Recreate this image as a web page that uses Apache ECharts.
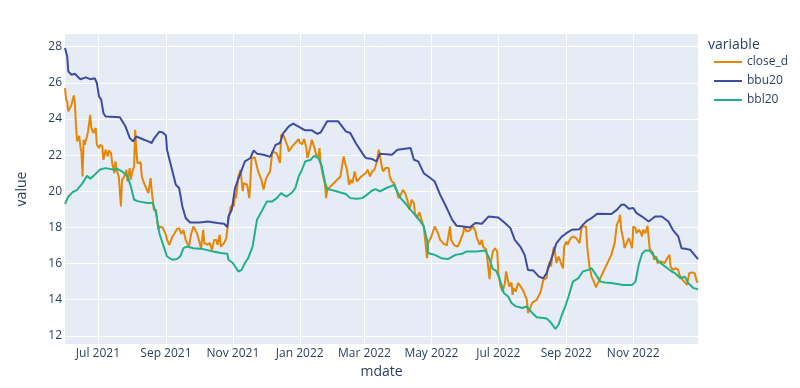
<!DOCTYPE html>
<html><head><meta charset="utf-8">
<script src="https://cdn.jsdelivr.net/npm/echarts@6/dist/echarts.min.js"></script>
<style>html,body{margin:0;padding:0;background:#fff}#chart{width:800px;height:388px}</style>
</head><body><div id="chart"></div>
<script>
const tickDates = ['2021-07-01','2021-09-01','2021-11-01','2022-01-01','2022-03-01','2022-05-01','2022-07-01','2022-09-01','2022-11-01'];
const tickLabels = ['Jul 2021','Sep 2021','Nov 2021','Jan 2022','Mar 2022','May 2022','Jul 2022','Sep 2022','Nov 2022'];
const seriesNames = ['close_d','bbu20','bbl20'];

const closeDates = [
'2021-06-01','2021-06-02','2021-06-03','2021-06-04','2021-06-07','2021-06-09','2021-06-10','2021-06-11','2021-06-12','2021-06-14','2021-06-15','2021-06-16','2021-06-17','2021-06-18','2021-06-19','2021-06-21','2021-06-22','2021-06-24','2021-06-25','2021-06-27','2021-06-29','2021-06-30',
'2021-07-02','2021-07-03','2021-07-05','2021-07-06','2021-07-08','2021-07-10','2021-07-11','2021-07-13','2021-07-14','2021-07-16','2021-07-17','2021-07-18','2021-07-20','2021-07-22','2021-07-23','2021-07-25','2021-07-27','2021-07-28','2021-07-30','2021-07-31',
'2021-08-01','2021-08-03','2021-08-04','2021-08-05','2021-08-06','2021-08-09','2021-08-10','2021-08-12','2021-08-14','2021-08-16','2021-08-18','2021-08-19','2021-08-21','2021-08-23','2021-08-25','2021-08-26','2021-08-29',
'2021-09-01','2021-09-02','2021-09-04','2021-09-07','2021-09-09','2021-09-11','2021-09-13','2021-09-15','2021-09-17','2021-09-19','2021-09-22','2021-09-24','2021-09-26','2021-09-29',
'2021-10-01','2021-10-03','2021-10-05','2021-10-06','2021-10-09','2021-10-11','2021-10-13','2021-10-15','2021-10-17','2021-10-18','2021-10-20','2021-10-21','2021-10-24','2021-10-26','2021-10-28','2021-10-30',
'2021-11-02','2021-11-03','2021-11-04','2021-11-06','2021-11-08','2021-11-10','2021-11-11','2021-11-14','2021-11-16','2021-11-17','2021-11-18','2021-11-21','2021-11-22','2021-11-24','2021-11-26','2021-11-27','2021-11-29',
'2021-12-01','2021-12-03','2021-12-05','2021-12-07','2021-12-11','2021-12-12','2021-12-14','2021-12-15','2021-12-17','2021-12-18','2021-12-21','2021-12-22','2021-12-25','2021-12-28','2021-12-31',
'2022-01-01','2022-01-03','2022-01-05','2022-01-07','2022-01-08','2022-01-10','2022-01-12','2022-01-14','2022-01-16','2022-01-18','2022-01-19','2022-01-20','2022-01-22','2022-01-24','2022-01-25','2022-01-26',
'2022-02-07','2022-02-10','2022-02-11','2022-02-13','2022-02-15','2022-02-17','2022-02-18','2022-02-20','2022-02-22','2022-02-23','2022-02-26',
'2022-03-02','2022-03-04','2022-03-06','2022-03-08','2022-03-10','2022-03-12','2022-03-14','2022-03-15','2022-03-17','2022-03-18','2022-03-20','2022-03-23','2022-03-24','2022-03-26','2022-03-28','2022-03-30',
'2022-04-01','2022-04-03','2022-04-05','2022-04-07','2022-04-09','2022-04-11','2022-04-13','2022-04-15','2022-04-16','2022-04-18','2022-04-20','2022-04-22','2022-04-24','2022-04-25','2022-04-27','2022-04-28',
'2022-05-01','2022-05-04','2022-05-07','2022-05-09','2022-05-12','2022-05-15','2022-05-18','2022-05-19','2022-05-22','2022-05-25','2022-05-27','2022-05-30','2022-05-31',
'2022-06-02','2022-06-05','2022-06-08','2022-06-10','2022-06-11','2022-06-14','2022-06-16','2022-06-17','2022-06-20','2022-06-21','2022-06-23','2022-06-24','2022-06-26','2022-06-28','2022-06-30',
'2022-07-01','2022-07-03','2022-07-05','2022-07-07','2022-07-08','2022-07-10','2022-07-11','2022-07-13','2022-07-14','2022-07-15','2022-07-17','2022-07-19','2022-07-21','2022-07-24','2022-07-25','2022-07-27','2022-07-28','2022-07-30',
'2022-08-01','2022-08-05','2022-08-08','2022-08-09','2022-08-11','2022-08-14','2022-08-15','2022-08-17','2022-08-18','2022-08-20','2022-08-21','2022-08-23','2022-08-25','2022-08-27','2022-08-29','2022-08-30',
'2022-09-01','2022-09-02','2022-09-05','2022-09-07','2022-09-10','2022-09-13','2022-09-15','2022-09-19','2022-09-20','2022-09-22','2022-09-24','2022-09-26','2022-09-28',
'2022-10-12','2022-10-15','2022-10-17','2022-10-19','2022-10-20','2022-10-21','2022-10-23','2022-10-24','2022-10-26','2022-10-28','2022-10-29','2022-10-31',
'2022-11-01','2022-11-03','2022-11-04','2022-11-06','2022-11-08','2022-11-09','2022-11-10','2022-11-12','2022-11-14','2022-11-16','2022-11-19','2022-11-20','2022-11-22','2022-11-23','2022-11-26','2022-11-27','2022-11-30',
'2022-12-01','2022-12-04','2022-12-05','2022-12-07','2022-12-10','2022-12-12','2022-12-13','2022-12-16','2022-12-20','2022-12-22','2022-12-25','2022-12-27','2022-12-29','2022-12-30'];
const closeValues = [
25.71,25.07,24.95,24.42,24.79,25.3,24.9,23.68,22.76,23.07,22.48,22.15,20.82,22.85,22.57,23.03,23.31,24.23,23.5,23.22,23.5,22.57,
22.39,22.57,22.5,21.74,22.3,21.93,22.26,22.11,21.56,21.0,21.65,21.19,20.82,19.16,20.64,20.82,21.19,20.54,21.28,20.64,
21.0,21.37,23.4,22.3,21.56,21.6,20.82,20.45,20.18,19.9,20.73,20.08,18.97,18.97,17.87,18.05,18.0,
17.59,17.31,17.04,17.5,17.68,17.9,17.96,17.64,17.85,17.31,16.94,17.64,18.05,17.72,
17.31,16.85,17.87,17.13,17.04,17.13,16.76,17.31,17.31,17.04,17.59,16.94,17.13,17.41,18.42,19.16,
19.2,19.9,19.62,20.82,21.19,20.0,20.45,20.36,19.62,20.54,21.84,21.87,21.84,21.1,20.8,20.64,20.1,
20.64,20.91,21.1,22.2,22.1,21.93,21.56,23.13,23.1,22.95,22.48,22.2,22.48,22.67,22.89,
22.7,22.6,22.89,22.39,21.84,22.3,22.85,22.48,22.02,21.93,22.39,21.56,20.91,20.36,19.62,20.08,
20.82,21.93,21.65,21.19,20.36,20.64,20.45,21.1,20.54,20.45,20.82,
21.0,21.19,20.82,21.1,21.19,21.56,22.3,22.02,21.28,21.1,21.28,21.28,20.82,20.54,20.45,20.12,
19.62,19.8,20.08,19.9,19.53,18.97,19.53,19.35,18.79,18.52,18.83,18.42,18.05,18.05,16.3,17.13,
17.5,18.05,17.68,17.31,17.1,17.0,18.05,17.31,17.0,16.94,17.22,17.68,18.05,
17.77,17.83,18.05,17.83,17.5,17.04,17.31,16.94,16.76,16.21,15.14,16.03,16.67,16.85,16.67,
15.47,14.73,14.45,14.92,15.56,15.0,14.73,14.95,14.27,14.64,14.45,14.92,14.77,14.45,14.36,13.99,13.26,13.54,
13.84,13.99,14.36,14.55,15.1,15.19,15.74,16.11,15.84,16.76,16.94,16.03,16.39,16.03,15.74,16.94,
17.22,17.04,17.41,17.5,17.41,17.13,18.05,18.05,16.94,15.84,15.28,15.0,14.69,
16.48,17.13,18.14,18.42,18.7,17.87,17.31,16.85,17.13,17.41,17.22,16.85,
18.05,17.96,17.68,17.87,17.68,17.5,17.87,17.68,18.09,16.8,16.58,16.21,16.39,16.03,16.12,16.21,16.03,
16.2,16.48,15.84,15.65,15.74,15.65,15.38,15.1,14.82,15.47,15.51,15.47,15.0,14.95];

const bbuDates = [
'2021-06-01','2021-06-03','2021-06-04','2021-06-07','2021-06-10','2021-06-15','2021-06-20','2021-06-24','2021-06-28','2021-06-30',
'2021-07-02','2021-07-04','2021-07-06','2021-07-08','2021-07-21','2021-07-26','2021-07-30',
'2021-08-02','2021-08-05','2021-08-12','2021-08-16','2021-08-19','2021-08-21','2021-08-26','2021-08-29',
'2021-09-01','2021-09-02','2021-09-05','2021-09-10','2021-09-13','2021-09-16','2021-09-19','2021-09-23',
'2021-10-02','2021-10-09','2021-10-18','2021-10-24','2021-10-27','2021-10-28','2021-10-31',
'2021-11-03','2021-11-08','2021-11-12','2021-11-17','2021-11-20','2021-11-23','2021-11-29',
'2021-12-05','2021-12-10','2021-12-14','2021-12-17','2021-12-22','2021-12-26',
'2022-01-02','2022-01-06','2022-01-12','2022-01-17','2022-01-20','2022-01-26',
'2022-02-05','2022-02-12','2022-02-16','2022-02-21','2022-02-27',
'2022-03-02','2022-03-08','2022-03-12','2022-03-15','2022-03-26','2022-03-31',
'2022-04-12','2022-04-15','2022-04-19','2022-04-24','2022-04-30',
'2022-05-04','2022-05-09','2022-05-15','2022-05-20','2022-05-24','2022-05-30',
'2022-06-05','2022-06-10','2022-06-16','2022-06-22',
'2022-07-01','2022-07-07','2022-07-12','2022-07-16','2022-07-21','2022-07-25','2022-07-28',
'2022-08-02','2022-08-07','2022-08-11','2022-08-14','2022-08-19','2022-08-23','2022-08-28',
'2022-09-01','2022-09-06','2022-09-13','2022-09-16','2022-09-20','2022-09-24','2022-09-29',
'2022-10-12','2022-10-17','2022-10-21','2022-10-24','2022-10-28',
'2022-11-01','2022-11-04','2022-11-09','2022-11-15','2022-11-21','2022-11-27',
'2022-12-03','2022-12-07','2022-12-12','2022-12-15','2022-12-20','2022-12-23','2022-12-26','2022-12-30'];
const bbuValues = [
27.93,27.46,26.63,26.45,26.5,26.2,26.3,26.2,26.25,26.0,
25.25,25.07,24.33,24.14,24.1,23.6,22.95,
22.76,23.03,22.85,22.76,22.67,22.9,23.3,23.25,
23.1,22.3,21.56,20.36,20.18,19.16,18.52,18.27,
18.27,18.33,18.24,18.2,18.02,18.6,18.97,
20.18,21.0,21.65,21.84,22.26,22.08,22.02,
21.9,22.57,22.67,23.22,23.59,23.74,
23.5,23.37,23.37,23.18,23.25,23.87,
23.87,23.31,23.22,22.67,22.11,
21.84,21.78,21.65,22.07,22.02,22.3,
22.39,21.74,21.65,21.0,20.73,
20.54,19.8,19.07,18.42,18.09,18.05,
18.0,18.24,18.2,18.6,
18.55,18.24,17.96,17.31,16.94,16.48,15.65,
15.61,15.28,15.19,15.47,16.39,17.13,17.5,
17.68,17.87,17.9,18.14,18.38,18.52,18.75,
18.74,18.97,19.25,19.25,19.03,
19.07,18.79,18.6,18.33,18.6,18.6,
18.33,17.87,17.5,16.85,16.8,16.76,16.54,16.25];

const bblDates = [
'2021-06-01','2021-06-04','2021-06-08','2021-06-12','2021-06-17','2021-06-21','2021-06-24','2021-06-27',
'2021-07-03','2021-07-08','2021-07-16','2021-07-19','2021-07-23','2021-07-28','2021-07-31',
'2021-08-03','2021-08-07','2021-08-15','2021-08-20','2021-08-23','2021-08-26','2021-08-30',
'2021-09-02','2021-09-07','2021-09-11','2021-09-14','2021-09-17','2021-09-20','2021-09-26',
'2021-10-05','2021-10-14','2021-10-21','2021-10-27','2021-10-28',
'2021-11-01','2021-11-06','2021-11-09','2021-11-12','2021-11-15','2021-11-19','2021-11-23','2021-11-28',
'2021-12-02','2021-12-07','2021-12-11','2021-12-15','2021-12-17','2021-12-20','2021-12-25','2021-12-28','2021-12-31',
'2022-01-03','2022-01-06','2022-01-11','2022-01-14','2022-01-18','2022-01-21','2022-01-24','2022-01-26',
'2022-02-01','2022-02-07','2022-02-12','2022-02-16','2022-02-22','2022-02-27',
'2022-03-03','2022-03-08','2022-03-11','2022-03-15','2022-03-21','2022-03-26','2022-03-28','2022-03-30',
'2022-04-03','2022-04-07','2022-04-12','2022-04-16','2022-04-21','2022-04-24','2022-04-27','2022-04-28',
'2022-05-04','2022-05-10','2022-05-16','2022-05-23','2022-05-29',
'2022-06-02','2022-06-11','2022-06-19','2022-06-22','2022-06-24','2022-06-26','2022-06-29',
'2022-07-02','2022-07-06','2022-07-10','2022-07-13','2022-07-17','2022-07-23','2022-07-27',
'2022-08-01','2022-08-05','2022-08-11','2022-08-14','2022-08-17','2022-08-22','2022-08-25','2022-08-28','2022-08-31',
'2022-09-03','2022-09-07','2022-09-12','2022-09-16','2022-09-21','2022-09-24','2022-09-27',
'2022-10-02','2022-10-06','2022-10-12','2022-10-23','2022-10-31',
'2022-11-03','2022-11-06','2022-11-09','2022-11-12','2022-11-16','2022-11-19','2022-11-24','2022-11-30',
'2022-12-06','2022-12-09','2022-12-14','2022-12-18','2022-12-21','2022-12-26','2022-12-30'];
const bblValues = [
19.3,19.7,19.95,20.08,20.45,20.85,20.7,20.85,
21.2,21.28,21.19,21.23,21.1,20.82,20.27,
19.53,19.44,19.35,19.35,18.79,17.68,16.94,
16.39,16.21,16.25,16.39,16.85,16.94,16.85,
16.8,16.67,16.58,16.54,16.21,
16.03,15.56,15.65,16.03,16.3,16.94,18.42,18.97,
19.44,19.44,19.62,19.9,19.8,19.71,19.93,20.18,20.82,
21.19,21.65,21.74,21.96,21.84,21.4,20.5,20.12,
20.04,19.93,19.85,19.62,19.58,19.62,
19.8,20.04,20.12,19.99,20.18,20.3,20.36,20.08,
19.62,19.35,18.97,18.7,18.33,18.05,17.31,16.58,
16.48,16.3,16.25,16.48,16.54,
16.67,16.67,16.72,16.39,16.03,15.7,15.6,
15.19,14.37,14.18,13.82,13.63,13.54,13.63,
13.26,13.03,12.99,12.96,12.8,12.38,12.63,13.18,13.63,
14.18,15.0,15.19,15.56,15.65,15.74,15.47,
15.0,14.95,14.92,14.82,14.82,
15.0,15.93,16.54,16.72,16.72,16.48,16.12,15.84,
15.56,15.47,15.19,15.28,14.92,14.64,14.58];

function ts(s){const p=s.split('-');return Date.UTC(+p[0],+p[1]-1,+p[2]);}
function pairs(d,v){return d.map((x,i)=>[ts(x),v[i]]);}
const FONT='"Open Sans", verdana, arial, sans-serif';
const TXT='#2a3f5f';
const tickTs=tickDates.map(ts);
function tickLabel(v){let best=-1,bd=Infinity;tickTs.forEach((t,i)=>{const d=Math.abs(t-v);if(d<bd){bd=d;best=i;}});return bd<2*86400000?tickLabels[best]:'';}

const chart=echarts.init(document.getElementById('chart'),null,{renderer:'canvas'});
chart.setOption({
  animation:false,
  backgroundColor:'#ffffff',
  textStyle:{fontFamily:FONT},
  color:['#E58606','#3D4BA3','#22B08A'],
  title:{text:'variable',left:708,top:38,padding:0,textStyle:{fontSize:14,fontWeight:'normal',color:TXT,fontFamily:FONT}},
  legend:{orient:'vertical',left:714,top:56,padding:0,icon:'rect',itemWidth:28,itemHeight:2,itemGap:7,
    textStyle:{fontSize:12,color:TXT,fontFamily:FONT},data:seriesNames},
  grid:{left:65,right:102,top:34,bottom:44,show:true,backgroundColor:'#E5ECF6',borderWidth:0,containLabel:false},
  xAxis:{type:'value',min:ts('2021-06-01'),max:ts('2022-12-30'),
    name:'mdate',nameLocation:'middle',nameGap:20,nameTextStyle:{fontSize:14,color:TXT,fontFamily:FONT,verticalAlign:'top'},
    axisLine:{show:false},axisTick:{show:false,customValues:tickTs},
    axisLabel:{customValues:tickTs,formatter:tickLabel,color:TXT,fontSize:12,fontFamily:FONT,margin:4,hideOverlap:false},
    splitLine:{show:true,lineStyle:{color:'#ffffff',width:1}}},
  yAxis:{type:'value',min:11.55,max:28.7,splitNumber:8,
    name:'value',nameLocation:'middle',nameGap:36,nameRotate:90,nameTextStyle:{fontSize:14,color:TXT,fontFamily:FONT},
    axisLine:{show:false},axisTick:{show:false},
    axisLabel:{color:TXT,fontSize:12,fontFamily:FONT,margin:3,showMinLabel:false,showMaxLabel:false},
    splitLine:{show:true,showMinLine:false,showMaxLine:false,lineStyle:{color:'#ffffff',width:1}}},
  series:[
    {name:seriesNames[0],type:'line',symbol:'none',lineStyle:{width:2},data:pairs(closeDates,closeValues)},
    {name:seriesNames[1],type:'line',symbol:'none',lineStyle:{width:2},data:pairs(bbuDates,bbuValues)},
    {name:seriesNames[2],type:'line',symbol:'none',lineStyle:{width:2},data:pairs(bblDates,bblValues)}
  ]
});
</script></body></html>
